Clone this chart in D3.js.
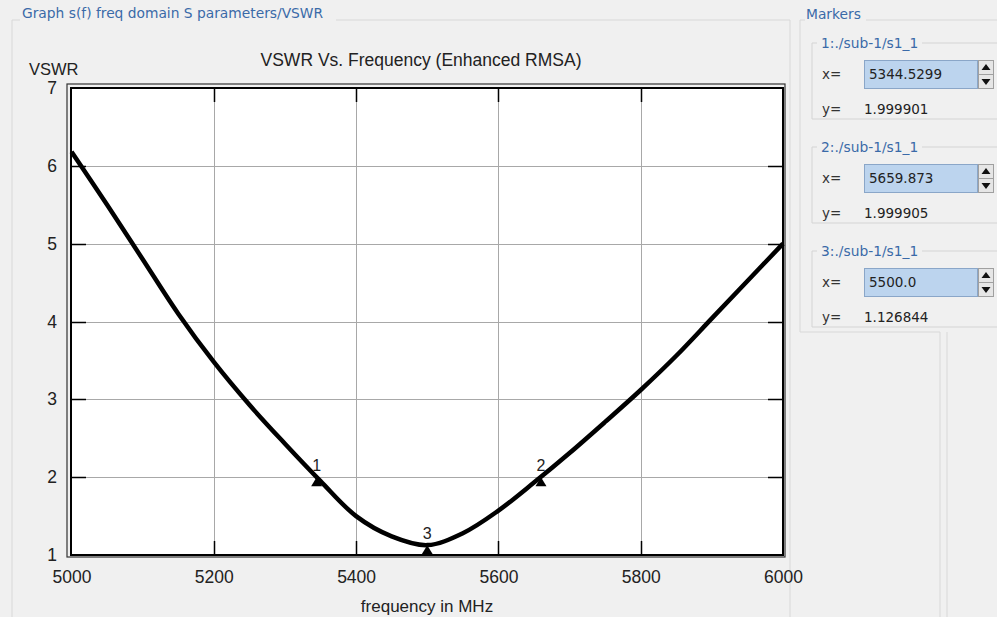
<!DOCTYPE html>
<html>
<head>
<meta charset="utf-8">
<script src="https://d3js.org/d3.v7.min.js"></script>
<style>
  body { margin: 0; background: #f0f0f0; }
  text { font-family: "Liberation Sans", Arial, sans-serif; }
  .ui { font-family: "DejaVu Sans", Tahoma, sans-serif; }
</style>
</head>
<body>
<div id="chart"></div>
<script>
// canvas
var w = 997, h = 617;

// curve
var freq = [5000, 5050, 5100, 5150, 5200, 5250, 5300, 5350, 5400, 5450, 5500,
            5550, 5600, 5650, 5700, 5750, 5800, 5850, 5900, 5950, 6000];
var vswr = [6.18, 5.50, 4.80, 4.10, 3.48, 2.93, 2.43, 1.95, 1.50, 1.24, 1.127,
            1.28, 1.57, 1.93, 2.31, 2.71, 3.12, 3.56, 4.04, 4.52, 5.0];

// markers
var markerNames = ["1", "2", "3"];
var markerX = [5344.5299, 5659.873, 5500.0];
var markerY = [1.999901, 1.999905, 1.126844];
var markerXText = ["5344.5299", "5659.873", "5500.0"];
var markerYText = ["1.999901", "1.999905", "1.126844"];
var markerTrace = "./sub-1/s1_1";

// ticks
var xTicks = [5000, 5200, 5400, 5600, 5800, 6000];
var yTicks = [1, 2, 3, 4, 5, 6, 7];

// plot area
var margin = {top: 88, right: 214, bottom: 62, left: 71};
var width = w - margin.left - margin.right;
var height = h - margin.top - margin.bottom;

var xScale = d3.scaleLinear().domain([5000, 6000]).range([0.5, width]);
var yScale = d3.scaleLinear().domain([1, 7]).range([height, 0]);

var svg = d3.select("#chart")
            .append("svg")
            .attr("width", w)
            .attr("height", h);

svg.append("rect").attr("width", w).attr("height", h).attr("fill", "#f0f0f0");

// group box on the left
svg.append("path")
    .attr("d", "M12,617 L12,20 L20,20 M336,20 L790,20 L790,617")
    .attr("fill", "none").attr("stroke", "#d8d8d8").attr("stroke-width", 1);
svg.append("text").attr("class", "ui")
    .attr("x", 22).attr("y", 18)
    .attr("font-size", 13.8).attr("fill", "#3a6aa8")
    .text("Graph s(f)  freq domain S parameters/VSWR");

var g = svg.append("g")
    .attr("transform", "translate(" + margin.left + "," + margin.top + ")");

// outer frame (double line look)
g.append("rect")
    .attr("x", -4).attr("y", -4)
    .attr("width", width + 6).attr("height", height + 6)
    .attr("fill", "none").attr("stroke", "#333").attr("stroke-width", 1.2);
g.append("rect")
    .attr("width", width).attr("height", height)
    .attr("fill", "#fff");

// grid
g.selectAll(".vgrid").data(xTicks.slice(1, -1)).enter()
    .append("line")
    .attr("x1", function(d) { return Math.round(xScale(d)) + 0.5; })
    .attr("x2", function(d) { return Math.round(xScale(d)) + 0.5; })
    .attr("y1", 0).attr("y2", height)
    .attr("stroke", "#a8a8a8");
g.selectAll(".hgrid").data(yTicks.slice(1, -1)).enter()
    .append("line")
    .attr("y1", function(d) { return Math.round(yScale(d)) + 0.5; })
    .attr("y2", function(d) { return Math.round(yScale(d)) + 0.5; })
    .attr("x1", 0).attr("x2", width)
    .attr("stroke", "#a8a8a8");

// inner tick marks
g.selectAll(".ytl").data(yTicks.slice(1, -1)).enter()
    .append("path")
    .attr("d", function(d) {
        var y = Math.round(yScale(d)) + 0.5;
        return "M0," + y + "H15M" + (width - 15) + "," + y + "H" + width;
    })
    .attr("stroke", "#000").attr("stroke-width", 1.5);
g.selectAll(".xtl").data(xTicks.slice(1, -1)).enter()
    .append("path")
    .attr("d", function(d) {
        var x = Math.round(xScale(d)) + 0.5;
        return "M" + x + "," + height + "V" + (height - 14) + "M" + x + ",0V14";
    })
    .attr("stroke", "#000").attr("stroke-width", 1.5);

g.append("rect")
    .attr("width", width).attr("height", height)
    .attr("fill", "none").attr("stroke", "#000").attr("stroke-width", 2);

// axes labels
var xAxis = d3.axisBottom(xScale).tickValues(xTicks).tickSize(0).tickPadding(16)
    .tickFormat(d3.format("d"));
var yAxis = d3.axisLeft(yScale).tickValues(yTicks).tickSize(0).tickPadding(14)
    .tickFormat(d3.format("d"));

var gx = g.append("g").attr("class", "x axis")
    .attr("transform", "translate(0," + height + ")")
    .call(xAxis);
var gy = g.append("g").attr("class", "y axis").call(yAxis);
[gx, gy].forEach(function(a) {
    a.select(".domain").remove();
    a.selectAll("text")
        .attr("font-family", "Liberation Sans, Arial, sans-serif")
        .attr("font-size", 17.5).attr("fill", "#222");
});

// curve
var line = d3.line()
    .x(function(d, i) { return xScale(freq[i]); })
    .y(function(d) { return yScale(d); })
    .curve(d3.curveCatmullRom.alpha(0.5));

g.append("path")
    .datum(vswr)
    .attr("d", line)
    .attr("fill", "none")
    .attr("stroke", "#000")
    .attr("stroke-width", 4.5)
    .attr("stroke-linejoin", "round");

// markers
var mk = g.selectAll(".marker").data(markerNames).enter()
    .append("g")
    .attr("transform", function(d, i) {
        return "translate(" + xScale(markerX[i]) + "," + yScale(markerY[i]) + ")";
    });
mk.append("path").attr("d", "M0,0L5.5,9L-5.5,9Z").attr("fill", "#000");
mk.append("text")
    .attr("y", -6).attr("text-anchor", "middle")
    .attr("font-size", 16).attr("fill", "#222")
    .text(function(d) { return d; });

// titles
svg.append("text")
    .attr("x", 421).attr("y", 66)
    .attr("text-anchor", "middle")
    .attr("font-size", 17.5).attr("fill", "#222")
    .text("VSWR Vs. Frequency (Enhanced RMSA)");
svg.append("text")
    .attr("x", 29).attr("y", 75)
    .attr("font-size", 16.5).attr("fill", "#222")
    .text("VSWR");
svg.append("text")
    .attr("x", margin.left + width / 2).attr("y", 612)
    .attr("text-anchor", "middle")
    .attr("font-size", 17).attr("fill", "#222")
    .text("frequency in MHz");

// markers panel
svg.append("path")
    .attr("d", "M800,20 L805,20 M866,20 L997,20 M800,20 L800,332 L940,332 L940,617 M947,332 L947,617")
    .attr("fill", "none").attr("stroke", "#d8d8d8");
svg.append("text").attr("class", "ui")
    .attr("x", 806).attr("y", 19)
    .attr("font-size", 13.8).attr("fill", "#3a6aa8")
    .text("Markers");

var boxTop = [43, 147, 251];
var pan = svg.selectAll(".mbox").data(markerNames).enter()
    .append("g")
    .attr("transform", function(d, i) { return "translate(0," + boxTop[i] + ")"; });
pan.append("path")
    .attr("d", "M817,0 L812,0 L812,76 L997,76 M922,0 L997,0")
    .attr("fill", "none").attr("stroke", "#d4d4d4");
pan.append("text").attr("class", "ui")
    .attr("x", 821).attr("y", 5)
    .attr("font-size", 13.8).attr("fill", "#3a6aa8")
    .text(function(d) { return d + ":" + markerTrace; });
pan.append("text").attr("class", "ui")
    .attr("x", 822).attr("y", 36)
    .attr("font-size", 13.5).attr("fill", "#333").text("x=");
pan.append("rect")
    .attr("x", 864.5).attr("y", 17.5).attr("width", 113).attr("height", 28)
    .attr("fill", "#bcd4ee").attr("stroke", "#8aa6c8");
pan.append("text").attr("class", "ui")
    .attr("x", 869).attr("y", 36)
    .attr("font-size", 13.5).attr("fill", "#222")
    .text(function(d, i) { return markerXText[i]; });
pan.append("rect")
    .attr("x", 978.5).attr("y", 17.5).attr("width", 15).attr("height", 28)
    .attr("fill", "#e6e6e6").attr("stroke", "#a0a0a0");
pan.append("line")
    .attr("x1", 978.5).attr("x2", 993.5).attr("y1", 31.5).attr("y2", 31.5)
    .attr("stroke", "#a0a0a0");
pan.append("path").attr("d", "M986,21L990.5,27H981.5Z M986,42L990.5,36H981.5Z").attr("fill", "#111");
pan.append("text").attr("class", "ui")
    .attr("x", 822).attr("y", 71)
    .attr("font-size", 13.5).attr("fill", "#333").text("y=");
pan.append("text").attr("class", "ui")
    .attr("x", 864).attr("y", 71)
    .attr("font-size", 13.5).attr("fill", "#222")
    .text(function(d, i) { return markerYText[i]; });
</script>
</body>
</html>
